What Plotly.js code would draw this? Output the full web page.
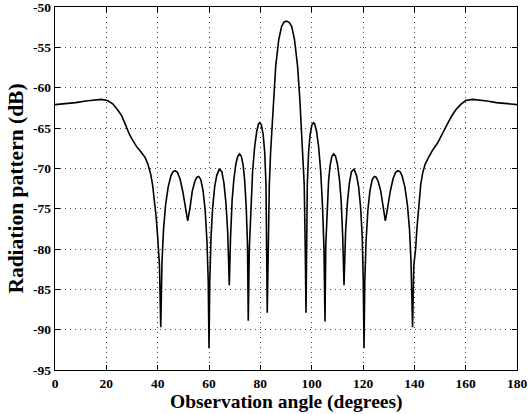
<!DOCTYPE html>
<html>
<head>
<meta charset="utf-8">
<script src="https://cdn.plot.ly/plotly-3.0.1.min.js"></script>
<style>html,body{margin:0;padding:0;background:#fff}#chart{width:528px;height:414px}</style>
</head>
<body>
<div id="chart"></div>
<script>
// Observation angle (degrees)
const angle = [
  0, 4, 8, 12, 15.5, 18, 20.5, 22.5, 24.3, 26, 27.6, 29, 30.4, 32, 33.6, 35.2, 36.2, 37.2, 38, 38.7, 39.4, 40.0, 40.7, 41.2,
  41.7, 42.3, 43.1, 44.1, 45.2, 46.0, 46.8, 47.7, 48.7, 49.8, 50.8, 51.7, 52.6, 53.5, 54.5, 55.3, 56.0, 56.8, 57.7, 58.5, 59.2, 59.7, 60.0,
  60.3, 60.8, 61.4, 62.2, 63.0, 64.0, 65.0, 65.8, 66.6, 67.3, 67.9,
  68.4, 69.0, 69.7, 70.5, 71.2, 71.9, 72.6, 73.3, 73.9, 74.5, 75.0, 75.3,
  75.7, 76.3, 77.0, 77.8, 78.6, 79.3, 79.8, 80.4, 81.1, 81.7, 82.2, 82.7,
  83.0, 83.5, 84.0, 84.4, 85.1, 86.0, 87.2, 88.3, 89.3, 90.2,
  91.2, 92.2, 93.3, 94.5, 95.4, 96.1, 96.6, 97.1, 97.5, 97.8,
  98.3, 98.8, 99.4, 100.1, 100.7, 101.2, 101.9, 102.7, 103.5, 104.2, 104.8, 105.2,
  105.5, 106.0, 106.6, 107.2, 107.9, 108.6, 109.3, 110.0, 110.8, 111.5, 112.1, 112.6,
  113.2, 113.9, 114.7, 115.5, 116.5, 117.5, 118.3, 119.1, 119.7, 120.1, 120.4,
  120.7, 121.2, 121.9, 122.7, 123.6, 124.4, 125.1, 125.9, 126.9, 127.8, 128.7, 129.6, 130.6, 131.7, 132.7, 133.6, 134.4, 135.2, 136.3, 137.3, 138.1, 138.7, 139.3,
  139.8, 140.5, 141.0, 141.8, 142.5, 143.3, 144.2, 145.3, 147.0, 149.0, 150.6, 152.4, 154.2, 156.0, 158.0, 160.0, 162.7, 165.0, 168.3, 172.0, 176.0, 180.0
];
// Radiation pattern (dB)
const pattern = [
  -62.1, -62.0, -61.85, -61.65, -61.5, -61.45, -61.6, -62.0, -62.7, -63.5, -64.7, -65.8, -66.6, -67.4, -68.0, -68.7, -69.5, -70.6, -72.0, -73.8, -76.0, -78.5, -82.0, -89.7,
  -81.5, -77.5, -74.5, -72.3, -70.9, -70.4, -70.3, -70.5, -71.3, -72.9, -74.9, -76.5, -74.9, -72.8, -71.6, -71.1, -71.0, -71.4, -72.8, -75.2, -79.0, -84.0, -92.3,
  -84.0, -78.5, -75.0, -72.3, -70.9, -70.1, -70.4, -71.8, -74.3, -78.0, -84.5,
  -78.5, -74.0, -71.3, -69.4, -68.5, -68.2, -68.5, -69.6, -71.5, -74.8, -79.5, -88.9,
  -80.0, -74.5, -70.3, -67.3, -65.4, -64.5, -64.35, -64.6, -65.8, -68.0, -72.0, -87.9,
  -80.0, -72.0, -68.0, -65.6, -61.5, -57.3, -54.0, -52.4, -51.85, -51.75,
  -51.9, -52.4, -54.0, -57.3, -61.5, -65.6, -68.5, -72.0, -80.0, -87.9,
  -72.0, -68.0, -65.8, -64.6, -64.35, -64.5, -65.4, -67.3, -70.3, -74.5, -80.0, -89.0,
  -79.5, -74.8, -71.5, -69.6, -68.5, -68.2, -68.5, -69.4, -71.3, -74.0, -78.5, -84.5,
  -78.0, -74.3, -71.8, -70.4, -70.1, -70.9, -72.3, -75.0, -78.5, -84.0, -92.3,
  -84.0, -79.0, -75.2, -72.8, -71.4, -71.0, -71.1, -71.6, -72.8, -74.9, -76.5, -74.9, -72.9, -71.3, -70.5, -70.3, -70.4, -70.9, -72.3, -74.5, -77.5, -81.5, -89.7,
  -82.0, -80.0, -77.5, -74.5, -72.0, -70.5, -69.5, -68.8, -67.8, -66.9, -66.0, -64.8, -63.7, -62.8, -62.1, -61.6, -61.45, -61.5, -61.65, -61.85, -62.0, -62.1
];
const xTicks = [0, 20, 40, 60, 80, 100, 120, 140, 160, 180];
const yTicks = [-95, -90, -85, -80, -75, -70, -65, -60, -55, -50];

const font = {family: '"Liberation Serif", "Times New Roman", serif', color: '#000'};
const axisCommon = {
  showline: true, linecolor: '#000', linewidth: 1.3, mirror: 'ticks',
  ticks: 'inside', ticklen: 5, tickcolor: '#000', tickwidth: 1,
  showgrid: true, gridcolor: '#444', gridwidth: 1, griddash: '1px,4px',
  zeroline: false, ticklabeloverflow: 'allow',
  tickfont: Object.assign({}, font, {size: 13.5, weight: 'bold'})
};

Plotly.newPlot('chart', [{
  x: angle, y: pattern, type: 'scatter', mode: 'lines',
  line: {color: '#000', width: 1.6}
}], {
  width: 528, height: 414,
  margin: {l: 55, r: 11, t: 7, b: 44},
  paper_bgcolor: '#fff', plot_bgcolor: '#fff',
  showlegend: false,
  xaxis: Object.assign({}, axisCommon, {
    range: [0, 180], tickmode: 'array', tickvals: xTicks, ticktext: xTicks.map(String)
  }),
  yaxis: Object.assign({}, axisCommon, {
    range: [-95, -50], tickmode: 'array', tickvals: yTicks, ticktext: yTicks.map(String),
    title: {text: 'Radiation pattern (dB)', font: Object.assign({}, font, {size: 21.5, weight: 'bold'}), standoff: 3}
  }),
  annotations: [{
    text: 'Observation angle (degrees)', showarrow: false,
    xref: 'paper', yref: 'paper', x: 0.5, y: -44 / 363, xanchor: 'center', yanchor: 'bottom',
    borderpad: 0,
    font: Object.assign({}, font, {size: 19.5, weight: 'bold'})
  }]
}, {staticPlot: true});
</script>
</body>
</html>
